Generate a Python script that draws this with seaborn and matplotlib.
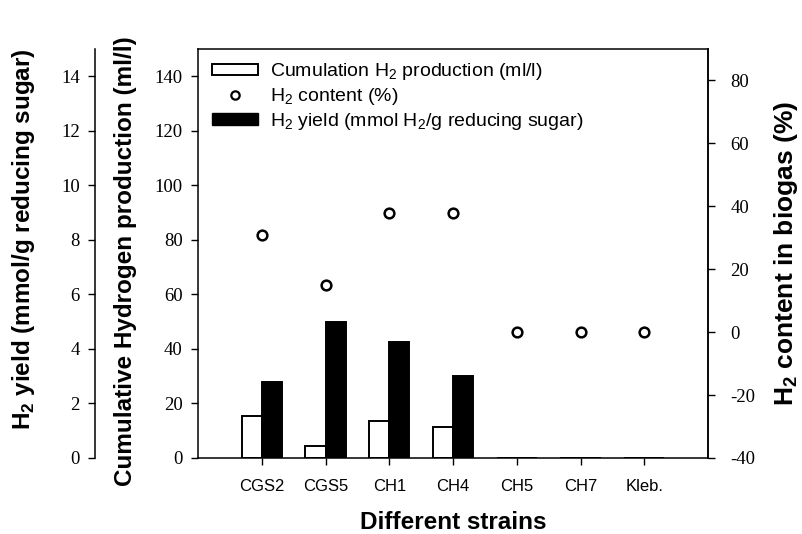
import matplotlib
matplotlib.use("Agg")
import matplotlib.pyplot as plt
import seaborn as sns
import pandas as pd
from matplotlib.patches import Patch
from matplotlib.lines import Line2D

# Data per strain
strains = ["CGS2", "CGS5", "CH1", "CH4", "CH5", "CH7", "Kleb."]
cum_h2 = [15.5, 4.5, 13.5, 11.5, 0, 0, 0]          # ml/l
h2_yield = [2.8, 5.0, 4.25, 3.0, 0, 0, 0]          # mmol H2 / g reducing sugar
h2_content = [31, 15, 38, 38, 0, 0, 0]             # % in biogas

series_order = ["cum", "yield"]
series_colors = {"cum": "white", "yield": "black"}

sns.set_style("ticks")
plt.rcParams["font.family"] = ["Liberation Sans", "DejaVu Sans"]
plt.rcParams["mathtext.fontset"] = "custom"
plt.rcParams["mathtext.rm"] = "Liberation Sans"
plt.rcParams["mathtext.bf"] = "Liberation Sans:bold"
plt.rcParams["axes.linewidth"] = 1.1
plt.rcParams["axes.unicode_minus"] = False
for key in ["text.color", "axes.labelcolor", "xtick.color", "ytick.color",
            "axes.edgecolor"]:
    plt.rcParams[key] = "black"

df_cum = pd.DataFrame({"strain": strains, "value": cum_h2, "series": "cum"})
df_yld = pd.DataFrame({"strain": strains, "value": h2_yield, "series": "yield"})

fig = plt.figure(figsize=(8.02, 5.34), dpi=100)
ax = fig.add_axes([198 / 802, 1 - 458 / 534, 510 / 802, 409 / 534])
ax_y = ax.twinx()
ax_c = ax.twinx()

bar_kw = dict(x="strain", y="value", hue="series", hue_order=series_order,
              order=strains, palette=series_colors, width=0.63, saturation=1,
              dodge=True, gap=0, edgecolor="black", linewidth=1.4,
              errorbar=None, legend=False)
sns.barplot(data=df_cum, ax=ax, **bar_kw)
sns.barplot(data=df_yld, ax=ax_y, **bar_kw)
sns.stripplot(x=strains, y=h2_content, order=strains, jitter=False,
              color="white", edgecolor="black", linewidth=1.8, size=7, ax=ax_c)

# Axis limits
ax.set_xlim(-1, 7)
ax.set_ylim(0, 150)
ax_y.set_ylim(0, 15)
ax_c.set_ylim(-40, 90)
ax.set_yticks(range(0, 141, 20))
ax_y.set_yticks(range(0, 15, 2))
ax_c.set_yticks(range(-40, 81, 20))

# Spines
for s in ["top", "right", "bottom"]:
    ax_y.spines[s].set_visible(False)
ax_y.yaxis.tick_left()
ax_y.yaxis.set_label_position("left")
ax_y.spines["left"].set_visible(True)
ax_y.spines["left"].set_position(("outward", 103 * 72 / 100))
for s in ["top", "left", "bottom"]:
    ax_c.spines[s].set_visible(False)
for a in (ax, ax_y, ax_c):
    for sp in a.spines.values():
        sp.set_linewidth(1.1)

# Ticks
tick_kw = dict(direction="out", length=5, width=1.0, color="black")
for a, pad in ((ax, 6), (ax_y, 6), (ax_c, 11)):
    a.tick_params(axis="y", pad=pad, **tick_kw)
    for lab in a.get_yticklabels():
        lab.set_fontfamily("Liberation Serif")
        lab.set_fontsize(13.5)
ax.tick_params(axis="x", labelsize=12, pad=10, **tick_kw)

# Labels
lab_kw = dict(fontsize=17.5, fontweight="bold")
ax.set_xlabel("Different strains", fontsize=17.5, fontweight="bold")
ax.xaxis.set_label_coords(0.5, -0.13)
ax.set_ylabel("Cumulative Hydrogen production (ml/l)", **lab_kw)
ax.yaxis.set_label_coords(-0.12, 0.482)
ax_y.set_ylabel(r"$\mathbf{H}_\mathbf{2}$ yield (mmol/g reducing sugar)", **lab_kw)
ax_y.yaxis.set_label_coords(-0.316, 0.535)
ax_c.set_ylabel(r"$\mathbf{H}_\mathbf{2}$ content in biogas (%)",
                fontsize=19, fontweight="bold")
ax_c.yaxis.set_label_coords(1.125, 0.5)

# Legend
handles = [
    Patch(facecolor="white", edgecolor="black", linewidth=1.4),
    Line2D([], [], marker="o", linestyle="", markerfacecolor="white",
           markeredgecolor="black", markeredgewidth=1.6, markersize=6),
    Patch(facecolor="black", edgecolor="black"),
]
labels = [
    r"Cumulation H$_2$ production (ml/l)",
    r"H$_2$ content (%)",
    r"H$_2$ yield (mmol H$_2$/g reducing sugar)",
]
ax_c.legend(handles, labels, loc="upper left", bbox_to_anchor=(0.027, 0.97),
            frameon=False, fontsize=14, handlelength=2.4, handleheight=0.55,
            handletextpad=0.6, labelspacing=0.2, borderpad=0,
            borderaxespad=0)

fig.savefig("out.png", dpi=100)
